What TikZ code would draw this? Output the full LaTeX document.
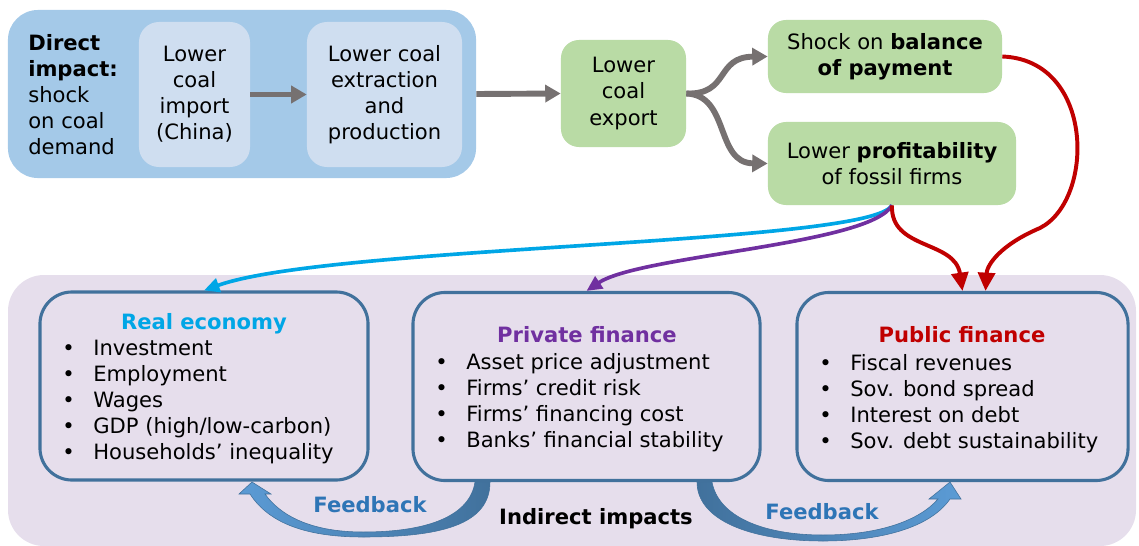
\documentclass[tikz,border=0pt]{standalone}
\usepackage{fontspec}
\setmainfont{DejaVu Sans}
\usetikzlibrary{arrows.meta}
\definecolor{directbg}{RGB}{164,201,232}
\definecolor{innerblue}{RGB}{207,222,240}
\definecolor{greenc}{RGB}{185,219,165}
\definecolor{greyc}{RGB}{118,113,113}
\definecolor{lilac}{RGB}{230,222,236}
\definecolor{boxblue}{RGB}{65,113,156}
\definecolor{cyanc}{RGB}{0,166,230}
\definecolor{purplec}{RGB}{112,48,160}
\definecolor{redc}{RGB}{192,0,0}
\definecolor{fbtextc}{RGB}{46,117,182}
\definecolor{fblight}{RGB}{91,155,213}
\newcommand{\itm}[1]{\makebox[0.775cm][l]{\textbullet}#1}
\begin{document}
\begin{tikzpicture}[x=0.025cm,y=-0.025cm,
  every node/.style={font=\fontsize{15}{18.5}\selectfont},
  innerbox/.style={fill=innerblue,rounded corners=0.5cm,inner sep=0,minimum height=3.625cm,align=center},
  greenbox/.style={fill=greenc,rounded corners=0.45cm,inner sep=0,align=center},
  effbox/.style={draw=boxblue,line width=2.2pt,rounded corners=0.8cm,inner sep=0,minimum height=4.7cm},
  bultxt/.style={anchor=north west,inner sep=0,align=left},
  greyarr/.style={draw=greyc,line width=4.2pt,-{Triangle[length=11pt,width=12pt]}},
  thinarr/.style={line width=2.6pt,-{Triangle[length=11pt,width=10pt]}},
  redarr/.style={draw=redc,line width=2.8pt,-{Triangle[length=13pt,width=12pt]}},
  fbarr/.style={left color=#1,right color=boxblue,draw=boxblue,line width=0.4pt},
  boldtxt/.style={font=\fontsize{15}{18.5}\selectfont\bfseries},
  fbtxt/.style={text=fbtextc,boldtxt}]
\useasboundingbox (0,0) rectangle (1139,546);

% direct impact
\node[fill=directbg,rounded corners=0.75cm,minimum width=11.7cm,minimum height=4.2cm] (direct) at (242,94) {};
\node[anchor=west,align=left,inner sep=0] (dtxt) at (28,95) {\textbf{Direct}\\\textbf{impact:}\\shock\\on coal\\demand};
\node[innerbox,minimum width=2.775cm] (imp) at (194.5,94.5) {Lower\\coal\\import\\(China)};
\node[innerbox,minimum width=3.875cm] (ext) at (384.5,94.5) {Lower coal\\extraction\\and\\production};
\node[greenbox,minimum width=3.125cm,minimum height=2.675cm] (exp) at (623.5,93.5) {Lower\\coal\\export};
\node[greenbox,minimum width=5.85cm,minimum height=1.825cm] (bal) at (885,56.5) {Shock on \textbf{balance}\\\textbf{of payment}};
\node[greenbox,minimum width=6.2cm,minimum height=2.075cm] (prof) at (892,163.5) {Lower \textbf{profitability}\\of fossil firms};

\draw[greyarr] (imp) -- (ext);
\draw[greyarr] (direct.east) -- (exp.west);
\draw[greyarr] (exp.east) .. controls (730,95) and (715,57) .. (bal.west);
\draw[greyarr] (exp.east) .. controls (730,95) and (715,163) .. (prof.west);

% indirect impacts
\fill[lilac,rounded corners=0.9cm] (8,275) rectangle (1136,546);
\node[effbox,minimum width=8.2cm] (real) at (204,386) {};
\node[effbox,minimum width=8.675cm] (priv) at (586.5,386.5) {};
\node[effbox,minimum width=8.275cm] (pub) at (962.5,386.5) {};

\node[anchor=base,text=cyanc,boldtxt] (realt) at (204,329.5) {Real economy};
\node[anchor=base,text=purplec,boldtxt] (privt) at (587,342.5) {Private finance};
\node[anchor=base,text=redc,boldtxt] (pubt) at (962,342.5) {Public finance};

\node[bultxt] (reall) at (62,340) {\itm{Investment}\\\itm{Employment}\\\itm{Wages}\\\itm{GDP (high/low-carbon)}\\\itm{Households’ inequality}};
\node[bultxt] (privl) at (435,353) {\itm{Asset price adjustment}\\\itm{Firms’ credit risk}\\\itm{Firms’ financing cost}\\\itm{Banks’ financial stability}};
\node[bultxt] (publ) at (819,354) {\itm{Fiscal revenues}\\\itm{Sov. bond spread}\\\itm{Interest on debt}\\\itm{Sov. debt sustainability}};

\draw[cyanc,thinarr] (prof.south) .. controls (870,245) and (330,245) .. (real.north);
\draw[purplec,thinarr] (prof.south) .. controls (870,245) and (640,255) .. (priv.north);
\draw[redarr] (prof.south) .. controls (890,250) and (955,240) .. (pub.north);
\draw[redarr] (bal.east) .. controls (1095,60) and (1095,200) .. (1040,228)
  .. controls (1000,245) and (987,265) .. ([xshift=0.575cm]pub.north);

% feedback loops
\shade[fbarr=fblight] (475,482) .. controls (470,515) and (430,532) .. (363,532)
  .. controls (310,532) and (280,515) .. (265,494) -- (271,494) -- (252,482) -- (239,494) -- (250,494)
  .. controls (270,525) and (310,537) .. (363,537) .. controls (440,537) and (490,525) .. (490,482) -- cycle;
\shade[fbarr=fblight,left color=boxblue,right color=fblight] (712,482) .. controls (718,515) and (760,535) .. (823,535)
  .. controls (880,535) and (920,520) .. (938,499) -- (929,499) -- (950,482) -- (961,499) -- (950,499)
  .. controls (930,528) and (880,541) .. (823,541) .. controls (750,541) and (697,520) .. (697,482) -- cycle;
\node[fbtxt] (fb1) at (370,505) {Feedback};
\node[fbtxt] (fb2) at (822,512) {Feedback};
\node[boldtxt] (ind) at (596,519) {Indirect impacts};
\end{tikzpicture}
\end{document}
